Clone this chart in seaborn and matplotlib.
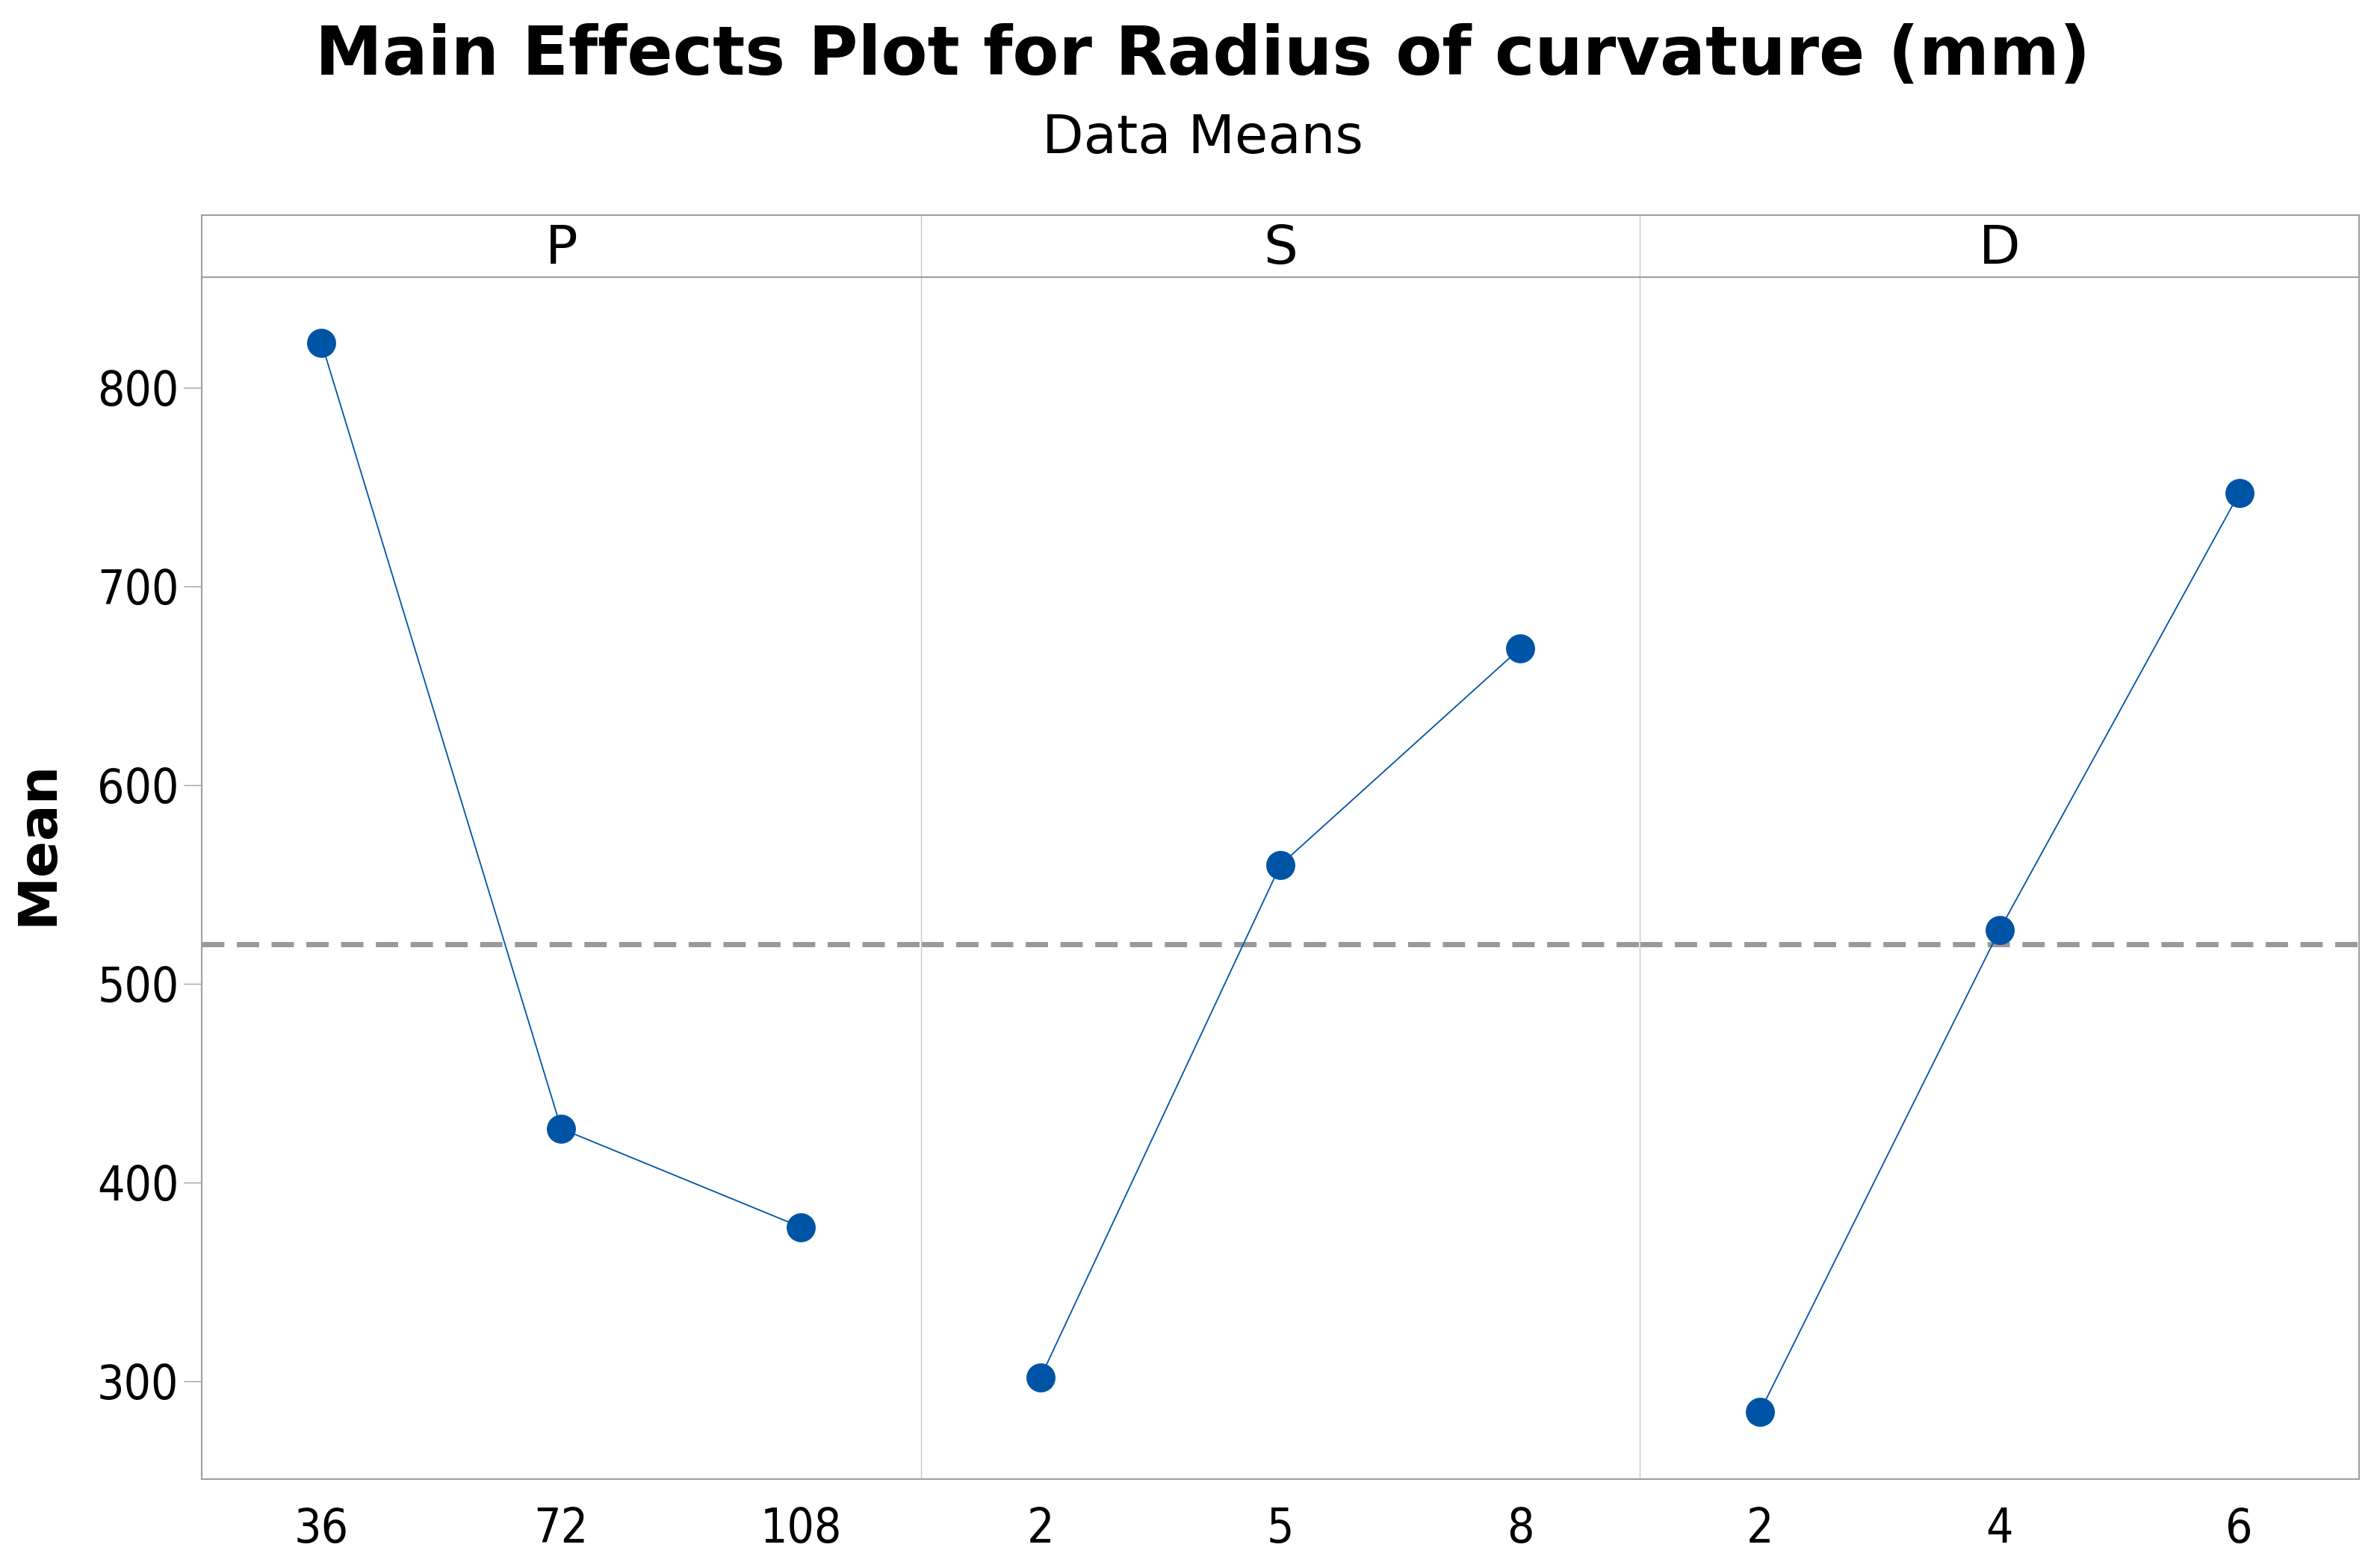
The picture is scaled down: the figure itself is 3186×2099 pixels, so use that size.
import numpy as np
import pandas as pd
import matplotlib
matplotlib.use('Agg')
import matplotlib.pyplot as plt
from matplotlib import font_manager
import seaborn as sns

# Main effects data (means)
factors = ['P', 'S', 'D']
p_levels = ['36', '72', '108']
s_levels = ['2', '5', '8']
d_levels = ['2', '4', '6']
p_means = [822.4, 427.0, 377.5]
s_means = [302.0, 559.7, 668.7]
d_means = [284.5, 527.0, 746.8]
grand_mean = 520.0
y_ticks = [300, 400, 500, 600, 700, 800]

levels = [p_levels, s_levels, d_levels]
means = [p_means, s_means, d_means]

sns.set_style('white')
plt.rcParams['font.family'] = ['DejaVu Sans']
plt.rcParams['text.color'] = 'black'
plt.rcParams['xtick.labelcolor'] = 'black'
plt.rcParams['ytick.labelcolor'] = 'black'

BLUE = '#0054A6'
FRAME = '#A0A0A0'
DIVIDER = '#C8C8C8'

# tick labels in Minitab are narrow; pick a narrow face if one is installed
installed = font_manager.fontManager.ttflist
names = {f.name for f in installed}
tick_font = {'family': ['DejaVu Sans'], 'stretch': 'normal', 'size': 47}
if 'Liberation Sans Narrow' in names:
    tick_font = {'family': ['Liberation Sans Narrow'], 'stretch': 'normal', 'size': 47}
elif any(f.name == 'DejaVu Sans' and f.stretch == 'condensed' for f in installed):
    tick_font = {'family': ['DejaVu Sans'], 'stretch': 'condensed', 'size': 46}
elif 'DejaVu Sans Condensed' in names:
    tick_font = {'family': ['DejaVu Sans Condensed'], 'stretch': 'normal', 'size': 46}

W, H, DPI = 3186, 2099, 100
fig = plt.figure(figsize=(W / DPI, H / DPI), dpi=DPI)

# layout in pixels
left_px, right_px = 270, 3158
strip_top, plot_top, plot_bottom = 288, 371, 1980
panel_w = (right_px - left_px) / 3


def style_ticklabels(labels):
    for lab in labels:
        lab.set_fontsize(tick_font['size'])
        lab.set_family(tick_font['family'])
        lab.set_stretch(tick_font['stretch'])
        lab.set_color('black')


axes = []
for i, (name, lv, mv) in enumerate(zip(factors, levels, means)):
    x0 = (left_px + i * panel_w) / W
    ax = fig.add_axes([x0, 1 - plot_bottom / H, panel_w / W, (plot_bottom - plot_top) / H],
                      sharey=axes[0] if axes else None)
    axes.append(ax)

    df = pd.DataFrame({'level': lv, 'mean': mv})
    sns.pointplot(data=df, x='level', y='mean', ax=ax, color=BLUE, errorbar=None,
                  markersize=28, markeredgewidth=0, linewidth=1.3)
    ax.axhline(grand_mean, color='#999999', lw=5, ls=(0, (4.3, 2.4)), zorder=0)

    ax.set_xlim(-0.5, 2.5)
    ax.set_ylim(250.7, 855.5)
    ax.set_xlabel('')
    ax.set_ylabel('')
    ax.tick_params(axis='x', length=17, width=1, color=FRAME, pad=9)
    style_ticklabels(ax.get_xticklabels())

    if i == 0:
        ax.set_yticks(y_ticks)
        ax.tick_params(axis='y', length=17, width=1, color=FRAME, pad=5, left=True)
        ax.set_yticklabels([str(t) for t in y_ticks])
        style_ticklabels(ax.get_yticklabels())
    else:
        ax.tick_params(axis='y', left=False, labelleft=False)

    for side in ['top', 'bottom']:
        ax.spines[side].set_color(FRAME)
        ax.spines[side].set_linewidth(1.5)
    ax.spines['left'].set_visible(True)
    ax.spines['left'].set_color(FRAME if i == 0 else DIVIDER)
    ax.spines['left'].set_linewidth(1.5 if i == 0 else 1)
    ax.spines['right'].set_visible(i == 2)
    ax.spines['right'].set_color(FRAME)
    ax.spines['right'].set_linewidth(1.5)

    # strip header
    sax = fig.add_axes([x0, 1 - plot_top / H, panel_w / W, (plot_top - strip_top) / H])
    sax.set_xticks([])
    sax.set_yticks([])
    for side in ['top', 'bottom', 'right']:
        sax.spines[side].set_color(FRAME)
        sax.spines[side].set_linewidth(1.5)
    sax.spines['right'].set_visible(i == 2)
    sax.spines['left'].set_color(FRAME if i == 0 else DIVIDER)
    sax.spines['left'].set_linewidth(1.5 if i == 0 else 1)
    sax.text(0.5, 0.45, name, ha='center', va='center', fontsize=52,
             color='black', transform=sax.transAxes)

fig.text(0.5053, 1 - 75 / H, 'Main Effects Plot for Radius of curvature (mm)',
         ha='center', va='center', fontsize=65, fontweight='bold', color='black')
fig.text(0.5053, 1 - 185 / H, 'Data Means', ha='center', va='center',
         fontsize=52, color='black')
fig.text(51 / W, 1 - 1128 / H, 'Mean', rotation=90, ha='center', va='center',
         fontsize=52, fontweight='bold', color='black')

fig.savefig('out.png', dpi=DPI)
